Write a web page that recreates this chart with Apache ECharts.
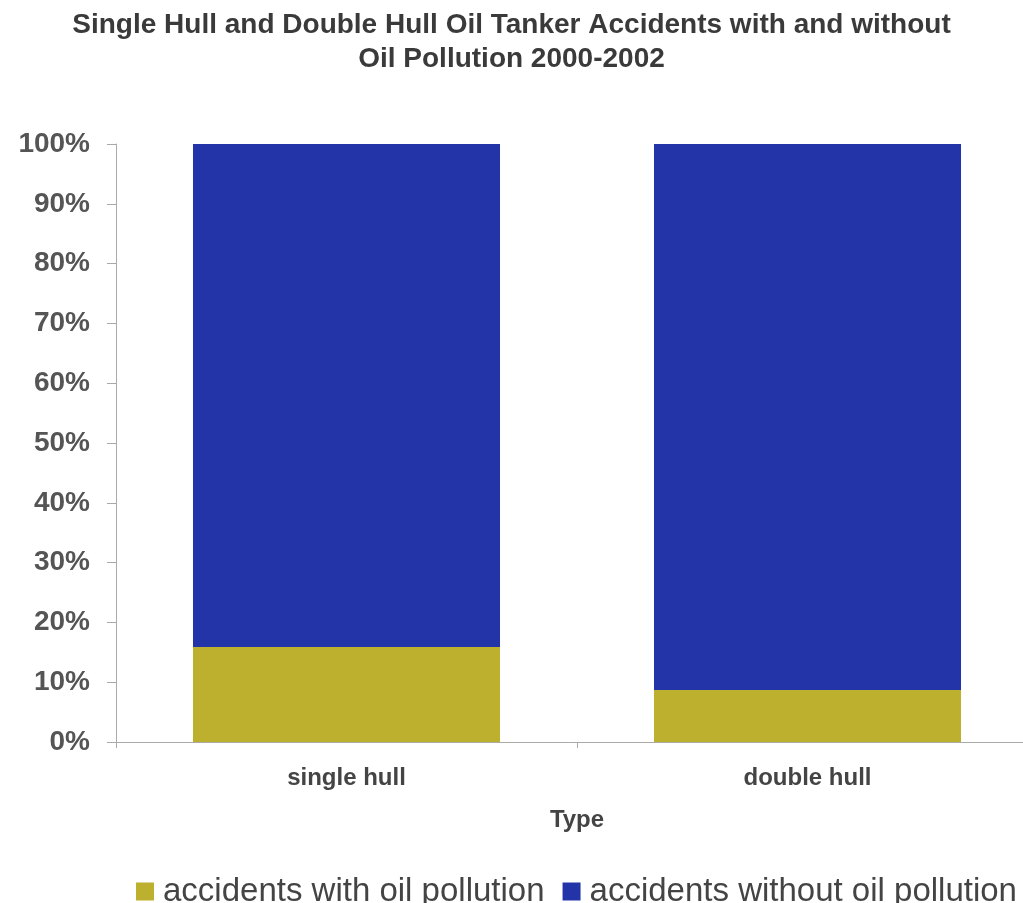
<!DOCTYPE html>
<html>
<head>
<meta charset="utf-8">
<script src="https://cdn.jsdelivr.net/npm/echarts@6/dist/echarts.min.js"></script>
<style>
  html, body { margin: 0; padding: 0; background: #fff; }
  #main { width: 1023px; height: 903px; }
</style>
</head>
<body>
<div id="main"></div>
<script>
// 数据
var categories = ['single hull', 'double hull'];
var withPollution = [15.9, 8.7];
var withoutPollution = [84.1, 91.3];
var seriesNames = ['accidents with oil pollution', 'accidents without oil pollution'];

var FONT = 'Liberation Sans, Arial, sans-serif';
var chart = echarts.init(document.getElementById('main'));

var option = {
  backgroundColor: '#fff',
  title: {
    text: 'Single Hull and Double Hull Oil Tanker Accidents with and without\nOil Pollution 2000-2002',
    left: 'center',
    top: 3,
    textStyle: {
      fontFamily: FONT,
      fontSize: 28,
      fontWeight: 'bold',
      color: '#3a3a3a',
      lineHeight: 34
    }
  },
  legend: {
    left: 131,
    top: 870,
    width: 900,
    itemWidth: 18,
    itemHeight: 18,
    itemGap: 18,
    icon: 'rect',
    data: seriesNames,
    textStyle: {
      fontFamily: FONT,
      fontSize: 33,
      color: '#444',
      padding: [0, 0, 0, 4]
    }
  },
  grid: {
    left: 116,
    right: -15,
    top: 144,
    bottom: 161,
    containLabel: false,
    outerBoundsMode: 'none'
  },
  xAxis: {
    type: 'category',
    data: categories,
    name: 'Type',
    nameLocation: 'middle',
    nameGap: 66,
    nameTextStyle: {
      fontFamily: FONT,
      fontSize: 24,
      fontWeight: 'bold',
      color: '#444'
    },
    axisLine: { lineStyle: { color: '#aaa', width: 1 } },
    axisTick: { show: true, length: 6, lineStyle: { color: '#aaa' } },
    axisLabel: {
      margin: 24,
      fontFamily: FONT,
      fontSize: 24,
      fontWeight: 'bold',
      color: '#444'
    }
  },
  yAxis: {
    type: 'value',
    min: 0,
    max: 100,
    interval: 10,
    splitLine: { show: false },
    axisLine: { show: true, lineStyle: { color: '#aaa', width: 1 } },
    axisTick: { show: true, length: 9, lineStyle: { color: '#aaa' } },
    axisLabel: {
      formatter: '{value}%',
      margin: 26,
      fontFamily: FONT,
      fontSize: 28,
      fontWeight: 'bold',
      color: '#555'
    }
  },
  series: [
    {
      name: seriesNames[0],
      type: 'bar',
      stack: 'total',
      barWidth: '66.6%',
      itemStyle: { color: '#bdb02e' },
      data: withPollution
    },
    {
      name: seriesNames[1],
      type: 'bar',
      stack: 'total',
      barWidth: '66.6%',
      itemStyle: { color: '#2234a8' },
      data: withoutPollution
    }
  ]
};
chart.setOption(option);
</script>
</body>
</html>
